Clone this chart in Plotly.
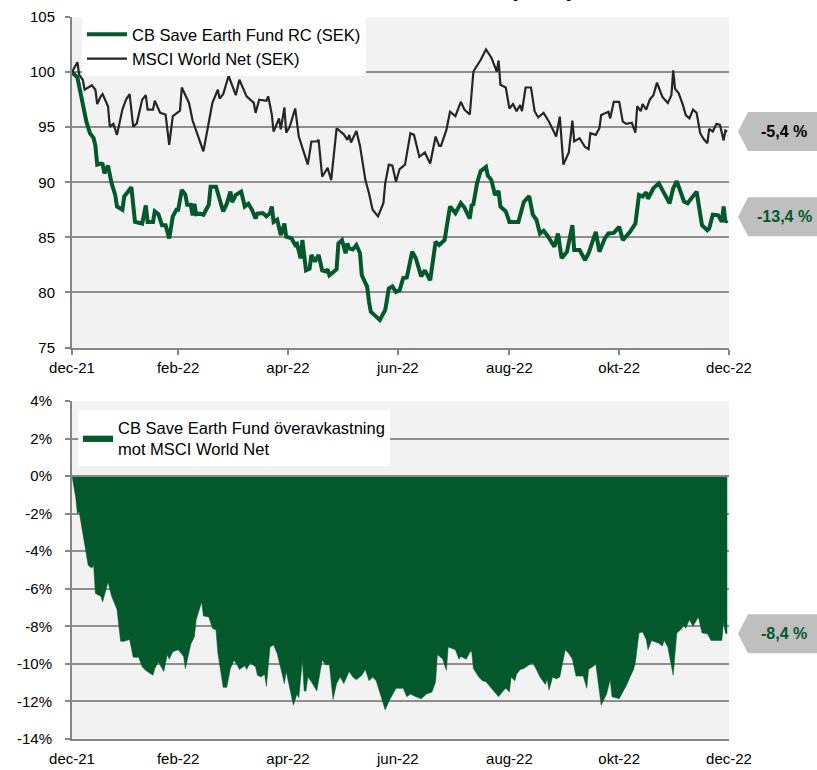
import pandas as pd
import plotly.graph_objects as go

# ---------------- data ----------------
START_DATE = "2021-12-31"          # day 0 of the period
END_DATE = "2022-12-31"

fund_name = "CB Save Earth Fund RC (SEK)"
msci_name = "MSCI World Net (SEK)"
excess_name = "CB Save Earth Fund överavkastning<br>mot MSCI World Net"

# MSCI World Net (SEK), indexed to 100; day = days after START_DATE
msci_day = [0, 3, 4, 6, 7, 11, 13, 14, 16, 17, 20, 21, 23, 25, 28, 30, 32, 34, 36, 39,
            41, 42, 45, 46, 49, 52, 54, 56, 60, 61, 65, 67, 73, 76, 78, 81, 82, 84, 87, 91,
            93, 97, 101, 102, 104, 108, 109, 111, 112, 115, 116, 118, 119, 121, 124, 126, 129, 131, 133, 136,
            137, 139, 142, 144, 147, 151, 153, 154, 155, 158, 160, 162, 163, 165, 167, 170, 173, 174, 176, 178,
            180, 182, 185, 188, 190, 193, 196, 199, 202, 204, 205, 208, 210, 213, 216, 218, 221, 223, 227, 230,
            233, 236, 237, 238, 241, 243, 245, 247, 249, 250, 252, 255, 257, 259, 262, 265, 269, 271, 273, 276,
            278, 279, 282, 285, 287, 288, 291, 293, 294, 298, 299, 301, 304, 306, 308, 311, 313, 314, 316, 317,
            319, 321, 323, 325, 327, 328, 331, 333, 334, 335, 337, 339, 341, 343, 345, 347, 349, 351, 353, 354,
            356, 358, 360, 362, 363, 364]
msci_value = [100.0, 100.9, 99.75, 99.3, 98.4, 98.8, 98.4, 97.1, 97.8, 98.0, 96.9, 95.05, 95.3, 94.3, 96.6, 97.5, 98.0, 95.05, 95.35, 97.5,
              97.9, 96.6, 96.6, 97.4, 96.3, 96.15, 93.4, 96.0, 96.5, 98.6, 97.2, 95.6, 92.8, 95.35, 97.2, 98.4, 97.6, 98.0, 99.65, 97.9,
              99.3, 97.8, 97.2, 96.3, 97.5, 97.4, 97.8, 96.15, 94.6, 95.8, 94.8, 96.8, 94.5, 95.05, 96.7, 94.15, 92.6, 91.6, 93.7, 93.7,
              93.85, 90.5, 91.3, 90.2, 94.9, 94.35, 93.85, 94.3, 93.6, 94.65, 93.3, 91.1, 90.2, 89.0, 87.5, 86.9, 88.1, 89.9, 91.6, 91.5,
              90.05, 91.2, 91.6, 94.45, 94.3, 92.3, 92.7, 91.7, 94.15, 93.3, 93.3, 94.75, 96.4, 96.0, 97.3, 96.6, 96.15, 100.05, 101.1, 102.05,
              101.3, 100.05, 101.05, 98.85, 98.6, 96.7, 97.1, 96.45, 97.0, 96.45, 98.6, 98.6, 96.45, 95.9, 96.3, 95.5, 94.15, 95.95, 91.6, 92.7,
              95.6, 93.7, 94.0, 93.2, 93.0, 94.45, 94.3, 94.9, 96.1, 96.4, 95.8, 97.3, 97.3, 95.5, 95.3, 95.4, 94.5, 96.9, 96.45, 97.1,
              96.6, 97.5, 97.9, 99.05, 98.2, 97.75, 97.2, 97.9, 100.15, 98.5, 98.1, 97.2, 96.1, 95.8, 96.6, 96.3, 94.45, 93.9, 93.55, 94.85,
              94.6, 95.3, 95.2, 93.8, 94.7, 94.6]

# CB Save Earth Fund RC (SEK), indexed to 100
fund_day = [0, 3, 4, 6, 8, 10, 12, 13, 14, 16, 17, 18, 20, 22, 24, 25, 27, 28, 29, 33,
            35, 39, 41, 42, 45, 46, 48, 50, 52, 54, 56, 58, 59, 61, 63, 64, 66, 67, 68, 69,
            71, 73, 76, 77, 80, 82, 84, 86, 88, 89, 91, 94, 96, 98, 100, 102, 103, 106, 108, 110,
            111, 112, 114, 116, 118, 119, 122, 124, 125, 127, 128, 130, 132, 133, 135, 137, 139, 141, 142, 143,
            145, 147, 148, 150, 152, 153, 154, 156, 158, 160, 161, 164, 165, 166, 169, 171, 173, 174, 176, 178,
            180, 182, 184, 186, 189, 191, 194, 196, 199, 202, 204, 207, 210, 213, 216, 218, 221, 222, 223, 225,
            227, 230, 231, 233, 235, 237, 238, 241, 243, 248, 251, 254, 256, 258, 260, 262, 264, 266, 268, 270,
            272, 275, 278, 279, 282, 285, 287, 291, 293, 296, 298, 301, 304, 306, 310, 313, 315, 317, 319, 320,
            323, 326, 328, 332, 334, 336, 340, 342, 347, 350, 353, 354, 356, 359, 361, 362, 363, 364]
fund_value = [100.0, 99.5, 98.7, 97.2, 95.5, 94.45, 94.0, 93.3, 91.6, 91.7, 91.65, 90.8, 91.5, 89.9, 88.85, 87.8, 87.65, 87.5, 88.7, 89.55,
              86.4, 86.25, 87.9, 86.4, 86.4, 87.35, 87.1, 86.1, 86.1, 84.9, 86.9, 87.5, 87.5, 89.3, 88.85, 87.95, 87.95, 87.0, 88.05, 87.1,
              87.15, 87.05, 87.95, 89.6, 89.6, 88.5, 87.35, 88.05, 89.15, 88.2, 88.85, 89.15, 87.8, 88.05, 87.5, 86.7, 87.15, 87.2, 86.9, 87.2,
              87.8, 86.4, 86.6, 85.2, 86.25, 85.05, 84.9, 84.3, 84.4, 83.1, 84.75, 82.0, 82.15, 83.4, 82.8, 83.4, 82.0, 81.9, 82.1, 81.55,
              81.85, 82.1, 84.45, 84.75, 83.55, 84.45, 84.0, 83.9, 84.3, 83.55, 81.55, 80.5, 79.15, 78.25, 77.8, 77.5, 78.1, 78.4, 80.35, 80.55,
              80.05, 80.2, 81.3, 81.35, 83.7, 83.1, 81.45, 82.0, 81.1, 84.6, 84.3, 84.75, 87.8, 87.2, 88.1, 87.7, 86.7, 87.9, 88.0, 89.9,
              91.0, 91.4, 90.6, 90.2, 88.85, 89.2, 87.8, 87.35, 86.4, 86.4, 88.2, 88.75, 87.05, 86.6, 85.35, 85.6, 85.2, 84.6, 84.15, 85.35,
              83.1, 83.7, 86.1, 83.85, 83.85, 82.95, 83.55, 85.5, 83.7, 84.9, 85.35, 85.4, 85.95, 84.75, 85.5, 86.25, 88.85, 88.7, 89.1, 88.5,
              89.45, 89.9, 89.3, 88.1, 89.45, 90.1, 88.25, 88.1, 89.15, 86.1, 85.65, 85.8, 87.05, 87.0, 86.4, 87.8, 86.4, 86.55]

# Excess return of the fund vs MSCI World Net, in percent
excess_day = [0, 2, 3, 4, 6, 9, 11, 12, 13, 16, 17, 20, 22, 25, 27, 29, 32, 34, 37, 39,
              41, 45, 46, 48, 51, 53, 54, 56, 59, 62, 63, 65, 66, 68, 69, 72, 73, 76, 78, 80,
              81, 84, 86, 88, 90, 92, 93, 96, 97, 99, 102, 103, 105, 107, 108, 110, 112, 114, 116, 118,
              119, 121, 123, 125, 126, 128, 129, 130, 131, 133, 136, 139, 141, 143, 145, 147, 149, 151, 154, 156,
              158, 161, 163, 165, 167, 169, 171, 174, 176, 178, 180, 184, 186, 188, 190, 191, 194, 197, 200, 202,
              203, 206, 208, 209, 213, 215, 216, 219, 221, 222, 223, 226, 228, 230, 233, 237, 239, 241, 243, 244,
              246, 247, 249, 251, 254, 256, 258, 260, 263, 264, 265, 267, 269, 271, 274, 276, 278, 280, 282, 284,
              286, 287, 290, 291, 294, 297, 299, 300, 304, 306, 308, 310, 312, 313, 315, 317, 319, 320, 322, 326,
              328, 329, 331, 332, 334, 336, 338, 340, 341, 343, 345, 348, 350, 353, 355, 358, 361, 362, 363, 364]
excess_value = [0.0, -1.1, -2.0, -1.9, -3.05, -4.75, -4.9, -4.75, -6.25, -6.4, -6.7, -5.65, -6.4, -7.1, -8.8, -8.8, -8.7, -9.65, -9.65, -10.15,
                -10.35, -10.6, -10.25, -9.9, -10.4, -9.5, -9.75, -9.35, -9.25, -9.6, -10.25, -9.45, -8.95, -8.55, -7.65, -6.7, -7.45, -7.5, -8.1, -8.2,
                -9.4, -11.25, -11.25, -10.25, -9.8, -10.1, -10.3, -10.1, -10.3, -9.95, -10.15, -10.6, -10.7, -10.55, -11.2, -9.1, -9.0, -9.45, -10.3, -11.05,
                -10.4, -11.25, -12.2, -11.6, -11.8, -9.8, -11.45, -11.45, -10.7, -10.95, -11.45, -9.8, -10.05, -10.05, -11.9, -11.05, -10.7, -11.05, -10.4, -10.7,
                -10.85, -10.6, -10.3, -10.9, -10.7, -10.9, -11.5, -12.45, -12.0, -11.65, -11.3, -11.3, -11.75, -11.6, -11.7, -11.75, -11.85, -11.6, -11.5, -10.95,
                -9.5, -9.75, -10.35, -9.1, -9.25, -9.75, -9.6, -9.75, -9.4, -9.3, -10.25, -10.7, -10.9, -10.95, -11.3, -11.75, -11.5, -11.3, -11.5, -10.7,
                -10.9, -10.55, -10.3, -10.25, -10.05, -9.95, -10.3, -10.7, -11.1, -10.8, -11.4, -10.7, -10.8, -10.7, -9.25, -9.45, -9.75, -10.65, -10.65, -10.65,
                -11.3, -10.3, -10.1, -10.0, -12.2, -11.6, -10.85, -11.75, -11.85, -11.5, -11.15, -10.7, -10.3, -9.9, -8.35, -8.3, -8.7, -9.25, -8.75, -8.9,
                -9.05, -8.75, -9.1, -9.6, -10.6, -8.35, -8.2, -7.95, -8.1, -7.65, -8.0, -7.5, -8.35, -8.4, -8.75, -8.75, -8.75, -7.75, -8.35, -8.4]

assert len(msci_day) == len(msci_value)
assert len(fund_day) == len(fund_value)
assert len(excess_day) == len(excess_value)

# axis ticks / labels
x_tick_dates = ["2021-12-31", "2022-02-28", "2022-04-30", "2022-06-30",
                "2022-08-31", "2022-10-31", "2022-12-31"]
x_tick_labels = ["dec-21", "feb-22", "apr-22", "jun-22", "aug-22", "okt-22", "dec-22"]
top_y_ticks = [75, 80, 85, 90, 95, 100, 105]
bottom_y_ticks = [4, 2, 0, -2, -4, -6, -8, -10, -12, -14]
bottom_y_labels = ["4%", "2%", "0%", "-2%", "-4%", "-6%", "-8%", "-10%", "-12%", "-14%"]

end_label_msci = "-5,4 %"
end_label_fund = "-13,4 %"
end_label_excess = "-8,4 %"
title_text = "Indexerat, senaste år (SEK)"

# ---------------- styling ----------------
GREEN = "#03592C"
BLACK = "#262626"
AXIS = "#868686"
GRID = "#8F8F8F"
PLOT_BG = "#F2F2F2"
TAG = "#BFBFBF"
FONT = "Liberation Sans, Arial, sans-serif"

W, H = 817, 770
M_L, M_R, M_T, M_B = 72, 88, 17, 31
PAPER_H = H - M_T - M_B
TOP_DOMAIN = [(H - M_B - 347.5) / PAPER_H, 1.0]
BOT_DOMAIN = [0.0, (H - M_B - 401) / PAPER_H]


def to_dates(days):
    return pd.Timestamp(START_DATE) + pd.to_timedelta(days, unit="D")


def paper_y_top(v):
    return TOP_DOMAIN[0] + (v - 75) / 30 * (TOP_DOMAIN[1] - TOP_DOMAIN[0])


def paper_y_bot(v):
    return BOT_DOMAIN[0] + (v + 14) / 18 * (BOT_DOMAIN[1] - BOT_DOMAIN[0])


def px_x(p):
    return (p - M_L) / (W - M_L - M_R)


def tag_path(yc):
    """left-pointing grey tag centred on paper-y yc"""
    hh = 19.5 / PAPER_H
    xt, xb, xr = px_x(738), px_x(748), px_x(840)
    return (f"M{xt},{yc} L{xb},{yc + hh} L{xr},{yc + hh} "
            f"L{xr},{yc - hh} L{xb},{yc - hh} Z")


fig = go.Figure()

fig.add_trace(go.Scatter(
    x=to_dates(fund_day), y=fund_value, name=fund_name, mode="lines",
    line=dict(color=GREEN, width=4), xaxis="x", yaxis="y", legend="legend"))
fig.add_trace(go.Scatter(
    x=to_dates(msci_day), y=msci_value, name=msci_name, mode="lines",
    line=dict(color=BLACK, width=2.2), xaxis="x", yaxis="y", legend="legend"))
fig.add_trace(go.Scatter(
    x=to_dates(excess_day), y=excess_value, name=excess_name, mode="lines",
    fill="tozeroy", fillcolor=GREEN, line=dict(color=GREEN, width=0.5),
    xaxis="x2", yaxis="y2", legend="legend2"))

common_x = dict(
    type="date", range=[START_DATE, END_DATE], tickmode="array",
    tickvals=x_tick_dates, ticktext=x_tick_labels, showgrid=False,
    showline=True, linecolor=AXIS, linewidth=2, zeroline=False,
    tickfont=dict(size=15, color="#000000"), fixedrange=True,
)

fig.update_layout(
    width=W, height=H,
    margin=dict(l=M_L, r=M_R, t=M_T, b=M_B, autoexpand=False),
    paper_bgcolor="white", plot_bgcolor=PLOT_BG,
    font=dict(family=FONT, size=15, color="#000000"),
    xaxis=dict(domain=[0, 1], anchor="y", ticks="outside", ticklen=5,
               tickwidth=1.5, tickcolor=AXIS, ticklabelstandoff=0, **common_x),
    yaxis=dict(domain=TOP_DOMAIN, anchor="x", range=[75, 105], tickmode="array",
               tickvals=top_y_ticks, ticks="outside", ticklen=5, tickwidth=1.5,
               tickcolor=AXIS, showline=True, linecolor=AXIS, linewidth=2,
               gridcolor=GRID, gridwidth=1.5, zeroline=False,
               tickfont=dict(size=15, color="#000000"), ticklabelstandoff=7,
               fixedrange=True),
    xaxis2=dict(domain=[0, 1], anchor="y2", ticks="", ticklabelstandoff=5,
                **common_x),
    yaxis2=dict(domain=BOT_DOMAIN, anchor="x2", range=[-14, 4], tickmode="array",
                tickvals=bottom_y_ticks, ticktext=bottom_y_labels, ticks="outside",
                ticklen=5, tickwidth=1.5, tickcolor=AXIS, showline=True,
                linecolor=AXIS, linewidth=2, gridcolor=GRID, gridwidth=1.5,
                zeroline=False, tickfont=dict(size=15, color="#000000"),
                ticklabelstandoff=10, fixedrange=True),
    legend=dict(x=px_x(82), y=1.0, xanchor="left", yanchor="top",
                bgcolor="white", borderwidth=0, font=dict(size=16.5, color="#000000"),
                tracegroupgap=0, itemwidth=40, traceorder="normal"),
    legend2=dict(x=px_x(78), y=(H - M_B - 410) / PAPER_H, xanchor="left",
                 yanchor="top", bgcolor="white", borderwidth=0,
                 font=dict(size=16.5, color="#000000"), itemwidth=30),
    showlegend=True,
    hovermode=False,
)

shapes = [
    dict(type="path", xref="paper", yref="paper", path=tag_path(paper_y_top(msci_value[-1])),
         fillcolor=TAG, line=dict(width=0), layer="above"),
    dict(type="path", xref="paper", yref="paper", path=tag_path(paper_y_top(fund_value[-1]) + 3.5 / PAPER_H),
         fillcolor=TAG, line=dict(width=0), layer="above"),
    dict(type="path", xref="paper", yref="paper", path=tag_path(paper_y_bot(excess_value[-1])),
         fillcolor=TAG, line=dict(width=0), layer="above"),
    # zero line of the excess-return panel
    dict(type="line", xref="x2 domain", yref="y2", x0=0, x1=1, y0=0, y1=0,
         line=dict(color=AXIS, width=2), layer="above"),
]
fig.update_layout(shapes=shapes)

annotations = [
    dict(text=f"<b>{end_label_msci}</b>", xref="paper", yref="paper",
         x=px_x(784), y=paper_y_top(msci_value[-1]), showarrow=False,
         font=dict(size=16, color="#000000"), xanchor="center", yanchor="middle"),
    dict(text=f"<b>{end_label_fund}</b>", xref="paper", yref="paper",
         x=px_x(784), y=paper_y_top(fund_value[-1]) + 3.5 / PAPER_H, showarrow=False,
         font=dict(size=16, color=GREEN), xanchor="center", yanchor="middle"),
    dict(text=f"<b>{end_label_excess}</b>", xref="paper", yref="paper",
         x=px_x(784), y=paper_y_bot(excess_value[-1]), showarrow=False,
         font=dict(size=16, color=GREEN), xanchor="center", yanchor="middle"),
    dict(text=f"<b>{title_text}</b>", xref="paper", yref="paper",
         x=px_x(577), y=(H - M_B - 3) / PAPER_H, showarrow=False,
         font=dict(size=24, color="#000000"), xanchor="right", yanchor="bottom"),
]
fig.update_layout(annotations=annotations)

fig.write_html("out.html", config={"displayModeBar": False},
               post_script="document.body.style.margin='0';")
